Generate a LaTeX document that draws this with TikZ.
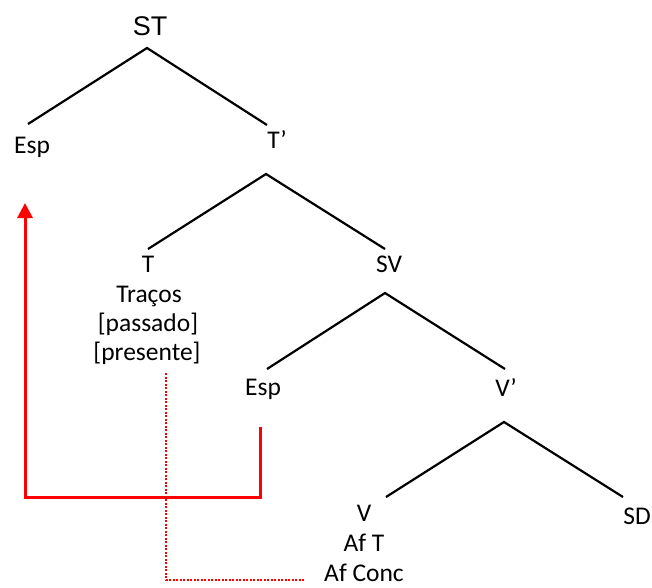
\documentclass[tikz,border=0pt]{standalone}
\usepackage{fontspec}
\setmainfont{Carlito}
\newfontfamily\stfont{Liberation Sans}
\usetikzlibrary{arrows.meta}
\begin{document}
\begin{tikzpicture}[x=1pt,y=-1pt,
  lbl/.style={anchor=base,inner sep=0pt,font=\fontsize{25.5}{31}\selectfont},
  branch/.style={draw=black,line width=2.2pt},
  move/.style={draw=red,line width=3pt,-{Triangle[width=15pt,length=15pt]}},
  trace/.style={draw=red,line width=2pt,dash pattern=on 2pt off 1.5pt}]
\useasboundingbox (0,0) rectangle (652,587);
% labels
\node[anchor=base,inner sep=0pt,font=\stfont\fontsize{27}{32}\selectfont] (st) at (150,35) {ST};
\node[lbl] (esp1) at (32,153) {Esp};
\node[lbl] (tbar) at (277,148) {T’};
\node[lbl] (t) at (148,272) {T};
\node[lbl] (tracos) at (149,302) {Traços};
\node[lbl] (passado) at (148,331) {[passado]};
\node[lbl] (presente) at (147,360) {[presente]};
\node[lbl] (sv) at (389,272) {SV};
\node[lbl] (esp2) at (263,395) {Esp};
\node[lbl] (vbar) at (506,396) {V’};
\node[lbl] (v) at (364,521) {V};
\node[lbl] (aft) at (364,551) {Af T};
\node[lbl] (afconc) at (364,581) {Af Conc};
\node[lbl] (sd) at (637,524) {SD};
% branch points
\coordinate (stA) at (147,48);
\coordinate (stL) at (28,124);
\coordinate (stR) at (267,125);
\coordinate (tbA) at (266,174);
\coordinate (tbL) at (148,249);
\coordinate (tbR) at (385,249);
\coordinate (svA) at (385,293);
\coordinate (svL) at (267,369);
\coordinate (svR) at (505,369);
\coordinate (vbA) at (504,422);
\coordinate (vbL) at (386,497);
\coordinate (vbR) at (623,497);
\draw[branch] (stL) -- (stA) -- (stR);
\draw[branch] (tbL) -- (tbA) -- (tbR);
\draw[branch] (svL) -- (svA) -- (svR);
\draw[branch] (vbL) -- (vbA) -- (vbR);
% movement arrow
\coordinate (mvS) at (260,427);
\coordinate (mvB) at (260,497);
\coordinate (mvC) at (25,497);
\coordinate (mvE) at (25,203);
\draw[move] (mvS) -- (mvB) -- (mvC) -- (mvE);
% dotted trace
\coordinate (trS) at (166,373);
\coordinate (trB) at (166,580);
\coordinate (trE) at (305,580);
\draw[trace] (trS) -- (trB) -- (trE);
\end{tikzpicture}
\end{document}
